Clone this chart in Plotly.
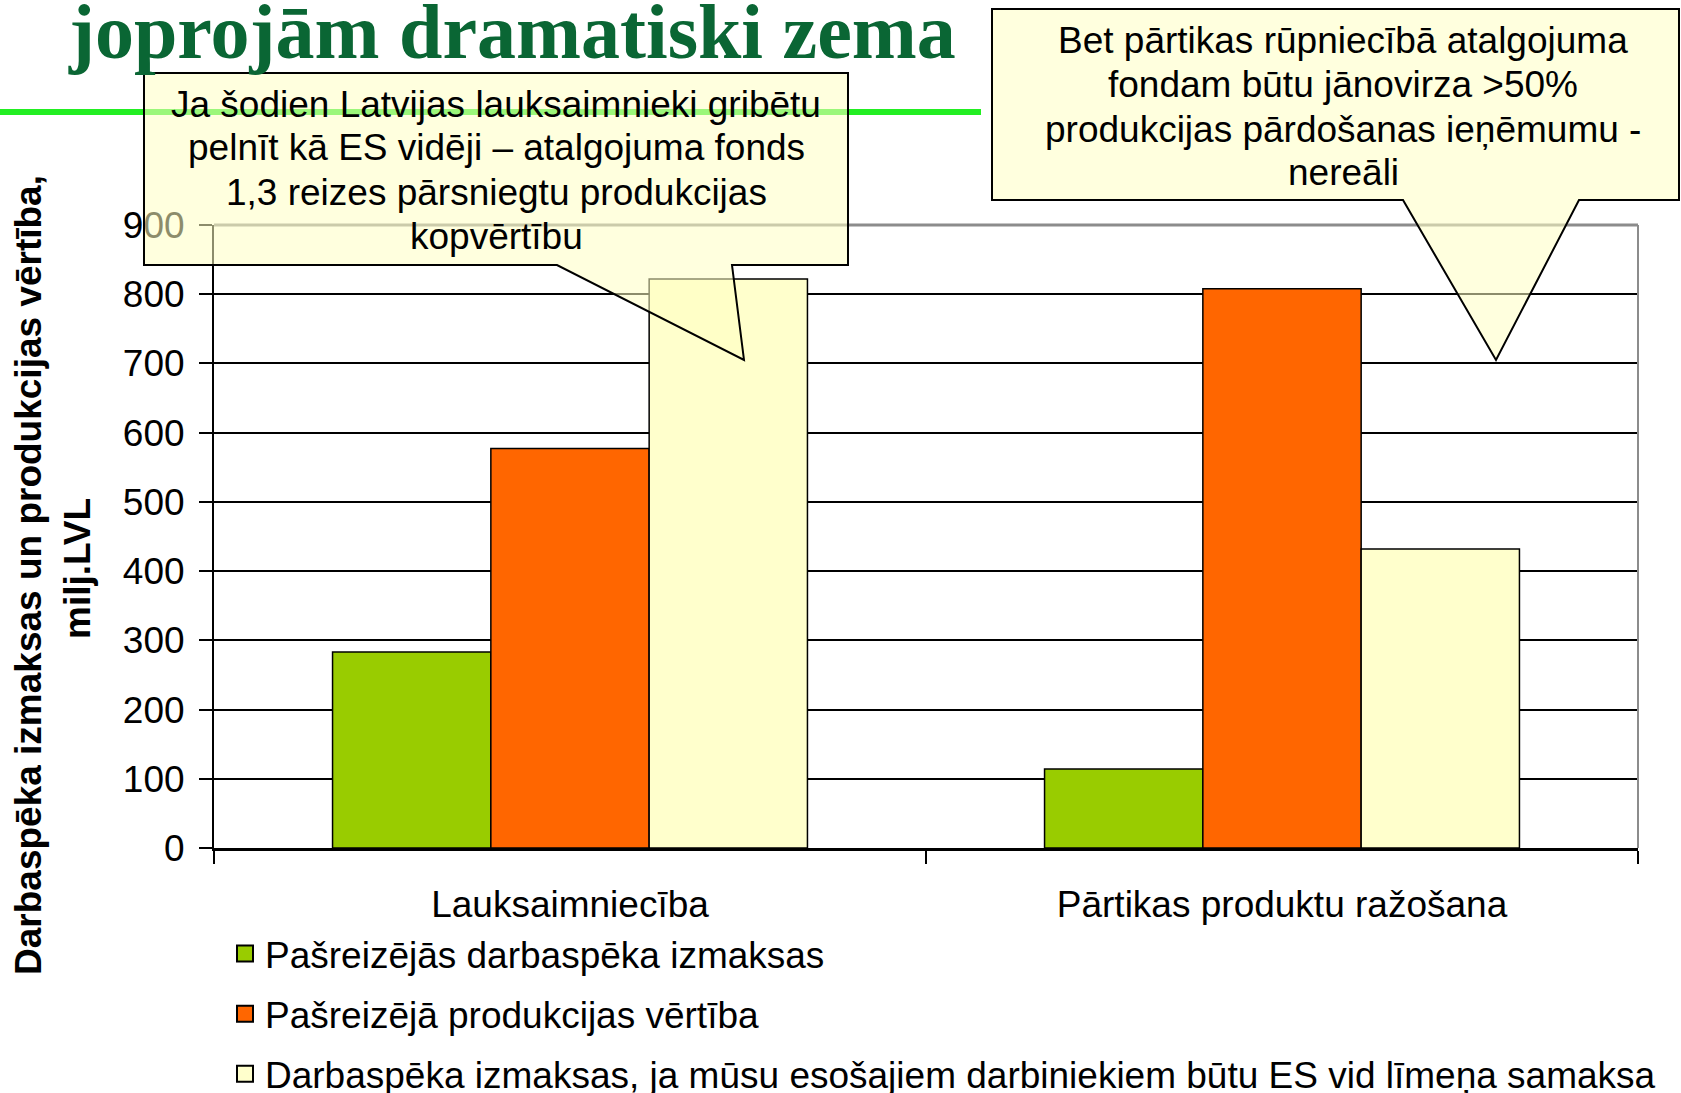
import plotly.graph_objects as go

# ---------------- data ----------------
categories = ["Lauksaimniecība", "Pārtikas produktu ražošana"]
series_names = [
    "Pašreizējās darbaspēka izmaksas",
    "Pašreizējā produkcijas vērtība",
    "Darbaspēka izmaksas, ja mūsu esošajiem darbiniekiem būtu ES vid līmeņa samaksa",
]
labour_current = [283, 114]
production_value = [577, 808]
labour_eu_level = [822, 432]
y_tick_values = [0, 100, 200, 300, 400, 500, 600, 700, 800, 900]

title_text = "joprojām dramatiski zema"
y_title_line1 = "Darbaspēka izmaksas un produkcijas vērtība,"
y_title_line2 = "milj.LVL"
callout1_lines = [
    "Ja šodien Latvijas lauksaimnieki gribētu",
    "pelnīt kā ES vidēji – atalgojuma fonds",
    "1,3 reizes pārsniegtu produkcijas",
    "kopvērtību",
]
callout2_lines = [
    "Bet pārtikas rūpniecībā atalgojuma",
    "fondam būtu jānovirza >50%",
    "produkcijas pārdošanas ieņēmumu -",
    "nereāli",
]

# ---------------- layout geometry ----------------
W, H = 1681, 1093
L, R, T, B = 214, 43, 225, 245
PW, PH = W - L - R, H - T - B


def px(X):
    return (X - L) / PW


def py(Y):
    return (H - B - Y) / PH


FONT = "Arial, Liberation Sans, sans-serif"
colors = ["#99CC00", "#FF6600", "#FFFFCC"]
values = [labour_current, production_value, labour_eu_level]

fig = go.Figure()
for name, vals, col in zip(series_names, values, colors):
    fig.add_trace(go.Bar(
        x=categories, y=vals, name=name, marker=dict(color=col, line=dict(color="black", width=1.5)),
        showlegend=False,
    ))
# legend entries (larger square symbols)
for i, (name, col) in enumerate(zip(series_names, colors)):
    fig.add_trace(go.Scatter(
        x=[None], y=[None], mode="markers", name=name, legendgroup=f"g{i}",
        marker=dict(symbol="square", size=16, color=col, line=dict(color="black", width=2)),
    ))

shapes = []
# plot area gray border (top, right)
shapes.append(dict(type="line", xref="paper", yref="paper", x0=0, x1=1, y0=1, y1=1,
                   line=dict(color="#8C8C8C", width=3), layer="above"))
shapes.append(dict(type="line", xref="paper", yref="paper", x0=1, x1=1, y0=0, y1=1,
                   line=dict(color="#8C8C8C", width=2), layer="above"))
# green rule under title
shapes.append(dict(type="line", xref="paper", yref="paper", x0=px(-20), x1=px(981), y0=py(112), y1=py(112),
                   line=dict(color="#22EE22", width=6), layer="above"))


def callout(pts):
    d = "M " + " L ".join(f"{px(x):.5f},{py(y):.5f}" for x, y in pts) + " Z"
    return dict(type="path", xref="paper", yref="paper", path=d,
                fillcolor="rgba(255,255,195,0.55)", line=dict(color="black", width=2), layer="above")


shapes.append(callout([(144, 73), (848, 73), (848, 265), (732, 265), (744, 360), (557, 265), (144, 265)]))
shapes.append(callout([(992, 9), (1679, 9), (1679, 200), (1579, 200), (1496, 360), (1403, 200), (992, 200)]))

annotations = [
    dict(text=f"<b>{title_text}</b>", xref="paper", yref="paper", x=px(958), y=py(31), xanchor="right",
         yanchor="middle", showarrow=False,
         font=dict(family="Liberation Serif, Times New Roman, serif", size=78, color="#0A6634")),
    dict(text=f"<b>{y_title_line1}</b>", xref="paper", yref="paper", x=px(28), y=py(575), xanchor="center",
         yanchor="middle", textangle=-90, showarrow=False, font=dict(family=FONT, size=37, color="black")),
    dict(text=f"<b>{y_title_line2}</b>", xref="paper", yref="paper", x=px(77), y=py(569), xanchor="center",
         yanchor="middle", textangle=-90, showarrow=False, font=dict(family=FONT, size=37, color="black")),
]
for line, yc in zip(callout1_lines, [104, 148, 193, 237]):
    annotations.append(dict(text=line, xref="paper", yref="paper", x=px(496), y=py(yc), xanchor="center",
                            yanchor="middle", showarrow=False, font=dict(family=FONT, size=37, color="black")))
for line, yc in zip(callout2_lines, [40, 84, 129, 173]):
    annotations.append(dict(text=line, xref="paper", yref="paper", x=px(1343), y=py(yc), xanchor="center",
                            yanchor="middle", showarrow=False, font=dict(family=FONT, size=37, color="black")))

fig.update_layout(
    width=W, height=H,
    margin=dict(l=L, r=R, t=T, b=B, pad=0, autoexpand=False),
    paper_bgcolor="white", plot_bgcolor="white",
    font=dict(family=FONT, color="black"),
    barmode="group", bargap=0.333, bargroupgap=0,
    shapes=shapes, annotations=annotations,
    legend=dict(x=px(225), y=py(923), xanchor="left", yanchor="top", font=dict(size=37, family=FONT),
                tracegroupgap=9, bgcolor="rgba(0,0,0,0)"),
    xaxis=dict(type="category", tickson="boundaries", ticks="outside", ticklen=13, tickwidth=2,
               tickcolor="black", showline=True, linecolor="black", linewidth=3, showgrid=False,
               tickfont=dict(size=37), ticklabelstandoff=22, automargin=False),
    yaxis=dict(range=[0, 900], tickvals=y_tick_values, ticks="outside", ticklen=13, tickwidth=2,
               tickcolor="black", showline=True, linecolor="black", linewidth=2, showgrid=True,
               gridcolor="black", gridwidth=2, zeroline=False, tickfont=dict(size=37),
               ticklabelstandoff=7, automargin=False),
)

fig.write_html("out.html", config={"displayModeBar": False},
               post_script="document.body.style.margin='0';document.body.style.overflow='hidden';")
